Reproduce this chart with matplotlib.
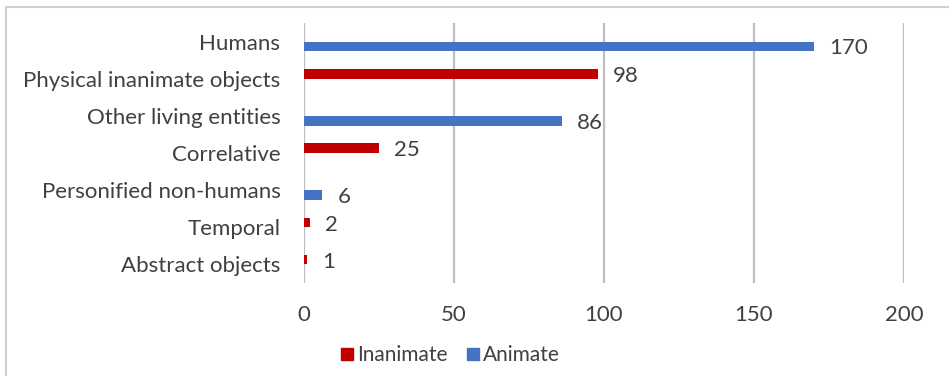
import matplotlib
matplotlib.use("Agg")
import matplotlib.pyplot as plt
from matplotlib.lines import Line2D
import numpy as np

plt.rcParams['font.family'] = ['Lato', 'DejaVu Sans']

categories = ["Humans", "Physical inanimate objects", "Other living entities",
              "Correlative", "Personified non-humans", "Temporal", "Abstract objects"]
inanimate = [0, 98, 0, 25, 0, 2, 1]
animate = [170, 0, 86, 0, 6, 0, 0]
series_names = ["Inanimate", "Animate"]
x_ticks = [0, 50, 100, 150, 200]

RED = "#C00000"
BLUE = "#4472C4"
TEXT = "#404040"
GRID = "#BFBFBF"
FS = 16

W, H = 949, 376
fig = plt.figure(figsize=(W / 100, H / 100), dpi=100)
ax = fig.add_axes([304 / W, 1 - 283 / H, 600 / W, 260 / H])

y = np.arange(len(categories))
h = 0.26
ax.barh(y - h / 2, inanimate, height=h, color=RED, zorder=3)
ax.barh(y + h / 2, animate, height=h, color=BLUE, zorder=3)

for yi, v in zip(y, inanimate):
    if v:
        ax.annotate(str(v), (v, yi - h / 2), xytext=(11, -1.5), textcoords="offset points",
                    va="center", ha="left", fontsize=FS, color=TEXT)
for yi, v in zip(y, animate):
    if v:
        ax.annotate(str(v), (v, yi + h / 2), xytext=(11, -1.5), textcoords="offset points",
                    va="center", ha="left", fontsize=FS, color=TEXT)

ax.set_xlim(x_ticks[0], x_ticks[-1])
ax.set_ylim(len(categories) - 0.5, -0.5)
ax.set_xticks(x_ticks)
ax.set_yticks(y)
ax.set_yticklabels(categories)
ax.tick_params(axis="both", length=0, labelsize=FS, labelcolor=TEXT)
ax.tick_params(axis="x", pad=16)
ax.tick_params(axis="y", pad=17)
ax.grid(axis="x", color=GRID, linewidth=1.6, zorder=0)
for s in ax.spines.values():
    s.set_visible(False)

handles = [Line2D([], [], marker="s", linestyle="none", markersize=8, color=c)
           for c in (RED, BLUE)]
fig.legend(handles, series_names, loc="center", bbox_to_anchor=(449 / W, 1 - 355 / H),
           ncol=2, frameon=False, fontsize=15, labelcolor=TEXT,
           handletextpad=0.05, columnspacing=0.8, handlelength=0.85)

# outer chart frame (top and left edges)
fig.add_artist(Line2D([6 / W, 6 / W], [0, 1 - 7 / H], transform=fig.transFigure,
                      color="#D0D0D0", linewidth=1.5))
fig.add_artist(Line2D([6 / W, 1], [1 - 7 / H, 1 - 7 / H], transform=fig.transFigure,
                      color="#D0D0D0", linewidth=1.5))

fig.savefig("out.png", dpi=100)
